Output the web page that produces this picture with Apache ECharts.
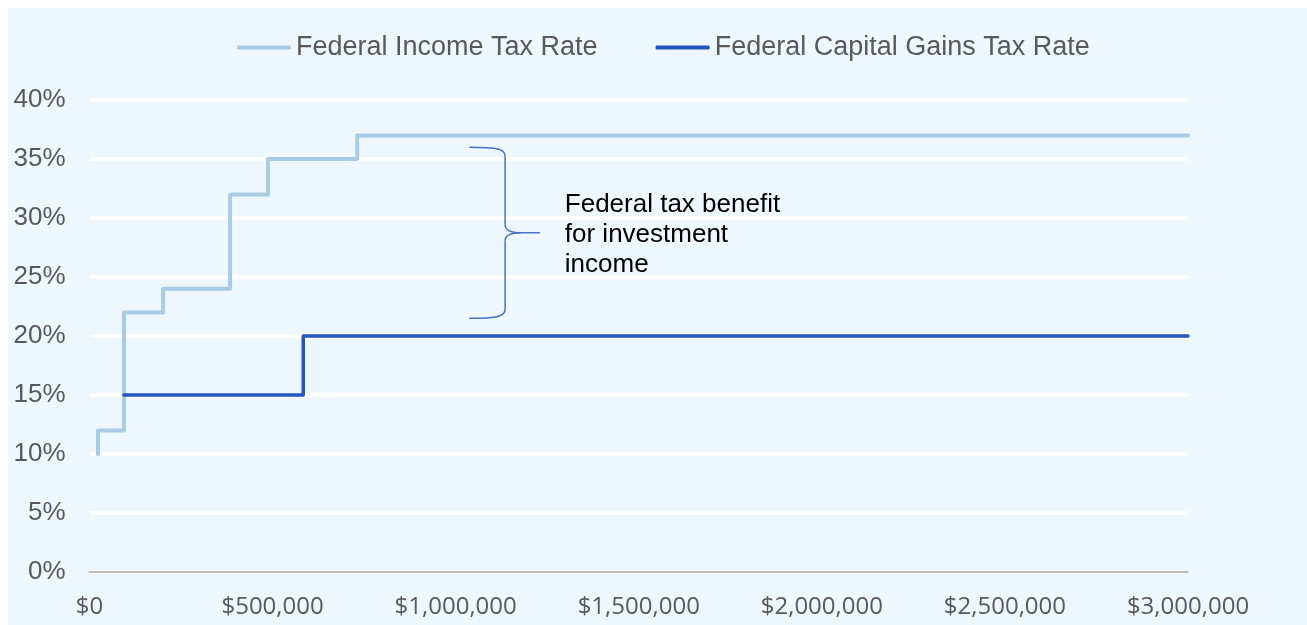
<!DOCTYPE html>
<html>
<head>
<meta charset="utf-8">
<script src="https://cdn.jsdelivr.net/npm/echarts@6/dist/echarts.min.js"></script>
<style>
  html, body { margin: 0; padding: 0; background: #fff; }
  #chart { position: absolute; left: 8px; top: 8px; width: 1299px; height: 617px; background: #eff7fe; }
</style>
</head>
<body>
<div id="chart"></div>
<script>
// series names
const seriesNames = ['Federal Income Tax Rate', 'Federal Capital Gains Tax Rate']

// income tax: upper edge of each bracket as drawn, and its rate (%)
const incomeEdges = [23200, 94300, 201050, 383900, 487450, 731200, 3000000]
const incomeRates = [10, 12, 22, 24, 32, 35, 37]

// capital gains: start of 15% bracket, end of 15%, end of chart
const gainsEdges = [94050, 583750, 3000000]
const gainsRates = [15, 15, 20]

// axis ticks
const yTicks = [0, 5, 10, 15, 20, 25, 30, 35, 40]
const xTicks = [0, 500000, 1000000, 1500000, 2000000, 2500000, 3000000]

// brace annotation (data units)
const braceX = [1037000, 1135000, 1230000]   // hook ends, spine, tip
const braceY = [36.0, 28.75, 21.5]           // top, tip, bottom
const noteX = 1298000
const noteY = 28.55
const noteLines = ['Federal tax benefit', 'for investment', 'income']

const chart = echarts.init(document.getElementById('chart'))

function money(v) {
  return '$' + v.toLocaleString('en-US')
}

chart.setOption({
  animation: false,
  legend: {
    left: 229, top: 26, padding: 0,
    icon: 'roundRect', itemWidth: 54, itemHeight: 4, itemGap: 58,
    textStyle: { fontFamily: '"Liberation Sans", Arial', fontSize: 27, color: '#595959' },
    data: seriesNames
  },
  grid: { left: 81.5, right: 119, top: 92, bottom: 53 },
  xAxis: {
    type: 'value', min: xTicks[0], max: xTicks[xTicks.length - 1], interval: 500000,
    axisLine: { show: true, lineStyle: { color: '#bfbfbf', width: 2 } },
    axisTick: { show: false },
    splitLine: { show: false },
    axisLabel: {
      margin: 23, fontFamily: '"Open Sans"', fontSize: 24, color: '#595959',
      formatter: v => money(v)
    }
  },
  yAxis: {
    type: 'value', min: yTicks[0], max: yTicks[yTicks.length - 1], interval: 5,
    axisLine: { show: false },
    axisTick: { show: false },
    splitLine: { lineStyle: { color: '#ffffff', width: 4 } },
    axisLabel: {
      margin: 24, fontFamily: '"Liberation Sans", Arial', fontSize: 26, color: '#595959',
      formatter: '{value}%'
    }
  },
  series: [
    {
      name: seriesNames[0], type: 'line', step: 'start', symbol: 'none',
      itemStyle: { color: '#a9cce4' },
      lineStyle: { color: '#a9cce4', width: 4, join: 'round', cap: 'round' },
      data: incomeEdges.map((x, i) => [x, incomeRates[i]])
    },
    {
      name: seriesNames[1], type: 'line', step: 'start', symbol: 'none',
      itemStyle: { color: '#2454be' },
      lineStyle: { color: '#2454be', width: 3.5, join: 'round', cap: 'round' },
      data: gainsEdges.map((x, i) => [x, gainsRates[i]])
    }
  ]
})

// brace + label, placed through the grid's own scales
const px = (x, y) => chart.convertToPixel({ gridIndex: 0 }, [x, y])
const [xL, yTop] = px(braceX[0], braceY[0])
const [xS, yMid] = px(braceX[1], braceY[1])
const [xT] = px(braceX[2], braceY[1])
const [, yBot] = px(braceX[0], braceY[2])
const [tx, ty] = px(noteX, noteY)

const hx = xL + (xS - xL) * 0.8
const braceStyle = { fill: null, stroke: '#4472c4', lineWidth: 1.5 }
const curve = (x1, y1, cx1, cy1, cx2, cy2, x2, y2) => ({
  type: 'bezierCurve', silent: true, style: braceStyle,
  shape: { x1, y1, cpx1: cx1, cpy1: cy1, cpx2: cx2, cpy2: cy2, x2, y2 }
})
const seg = (x1, y1, x2, y2) => ({
  type: 'line', silent: true, style: braceStyle, shape: { x1, y1, x2, y2 }
})

chart.setOption({
  graphic: [
    curve(xL, yTop, hx, yTop, xS, yTop + 2, xS, yTop + 9),
    seg(xS, yTop + 9, xS, yMid - 8),
    curve(xS, yMid - 8, xS, yMid - 2, xS + 6, yMid, xS + 16, yMid),
    seg(xS + 16, yMid, xT, yMid),
    curve(xS + 16, yMid, xS + 6, yMid, xS, yMid + 2, xS, yMid + 8),
    seg(xS, yMid + 8, xS, yBot - 9),
    curve(xS, yBot - 9, xS, yBot - 2, hx, yBot, xL, yBot),
    {
      type: 'text', silent: true, x: tx, y: ty,
      style: {
        text: noteLines.join('\n'),
        fontFamily: '"Liberation Sans", Arial', fontSize: 26, lineHeight: 30,
        fill: '#000000', align: 'left', verticalAlign: 'middle'
      }
    }
  ]
})
</script>
</body>
</html>
